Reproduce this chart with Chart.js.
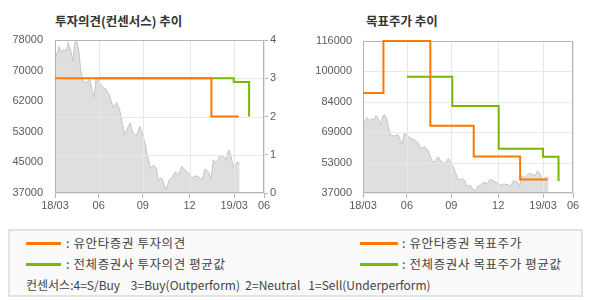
<!DOCTYPE html>
<html><head><meta charset="utf-8">
<script src="https://cdn.jsdelivr.net/npm/chart.js@4/dist/chart.umd.min.js"></script>
<style>
html,body{margin:0;padding:0;background:#fff;}
body{width:590px;height:300px;position:relative;overflow:hidden;font-family:"Noto Sans CJK KR","Liberation Sans",sans-serif;}
.title{position:absolute;font-weight:bold;font-size:12.5px;color:#333;line-height:16px;white-space:pre;}
canvas{position:absolute;top:0;}
#c1{left:0;}
#c2{left:295px;}
.legend{position:absolute;left:8px;top:229px;width:575px;height:68px;border:2px solid #e2e2e2;background:#fafafa;box-sizing:border-box;}
.lt{position:absolute;font-size:12.5px;line-height:14px;color:#444;white-space:pre;}
.ln{position:absolute;height:3px;}
</style>
</head><body>
<div class="title" style="left:55px;top:13px;">투자의견(컨센서스) 추이</div>
<div class="title" style="left:366px;top:13px;">목표주가 추이</div>
<canvas id="c1" width="295" height="215"></canvas>
<canvas id="c2" width="295" height="215"></canvas>
<div id="legend"></div>
<script>
// ---- data ----
const tickDays = [4, 92, 181, 275, 365, 425];
const tickLabels = ['18/03', '06', '09', '12', '19/03', '06'];
const priceDays = [4, 8, 12, 17, 21, 27, 30, 35, 40, 44, 48, 52, 56, 60, 67, 74, 79, 83, 87, 94, 101, 107, 114, 121, 128, 134, 140, 144, 149, 155, 161, 168, 175, 181, 186, 189, 196, 202, 208, 212, 219, 224, 228, 234, 239, 246, 253, 259, 266, 273, 280, 286, 293, 300, 306, 313, 318, 323, 329, 337, 343, 349, 354, 358, 364, 370, 376];
const priceValues = [72600, 74400, 76200, 74700, 75500, 75100, 77300, 75500, 72400, 77300, 77600, 75100, 69700, 67000, 66600, 67500, 64400, 62700, 68100, 66600, 65200, 64800, 63000, 59900, 61200, 59400, 55400, 52700, 54000, 55800, 53100, 52300, 54900, 52300, 50000, 47700, 43600, 44500, 43600, 40500, 41000, 39200, 37800, 40500, 41000, 42700, 41800, 44100, 43200, 42300, 41000, 41600, 41400, 40500, 43400, 42700, 40500, 45900, 45000, 47200, 46800, 45900, 48600, 47200, 43600, 45200, 45000];
const opinionYuantaDays = [4, 319, 374];
const opinionYuanta = [3, 2, 2];
const opinionAvgDays = [92, 364, 395];
const opinionAvg = [3, 2.9, 2];
const targetYuantaDays = [4, 45, 139, 226, 319, 374];
const targetYuanta = [89000, 116000, 72000, 56000, 44000, 44000];
const targetAvgDays = [92, 183, 276, 365, 396];
const targetAvg = [97400, 82200, 60000, 55800, 43300];
const leftPriceTicks = ['37000', '45000', '53000', '62000', '70000', '78000'];
const rightPriceTicks = ['37000', '53000', '69000', '84000', '100000', '116000'];
const opinionTicks = ['0', '1', '2', '3', '4'];
const legendItems = [': 유안타증권 투자의견', ': 전체증권사 투자의견 평균값', ': 유안타증권 목표주가', ': 전체증권사 목표주가 평균값'];
const consensusText = '컨센서스:4=S/Buy    3=Buy(Outperform)  2=Neutral   1=Sell(Underperform)';

// ---- styles ----
const ORANGE = '#ff7800';
const GREEN = '#77b800';
const GRID = '#e8e8e8';
const AXIS = '#b4b4b4';
const TICKFONT = {family: '"Liberation Sans", Arial, sans-serif', size: 11};
const TICKCOLOR = '#5a5a5a';

const pts = (xs, ys) => xs.map((x, i) => ({x: x, y: ys[i]}));

// grid + frame drawn right after the price area, below the step lines
const framePlugin = {
  id: 'frame',
  afterDatasetDraw(chart, args) {
    if (args.meta._dataset.isPrice !== true) return;
    const {ctx, chartArea: a} = chart;
    const l = Math.round(a.left) + 0.5, t = Math.round(a.top) + 0.5;
    const r = Math.round(a.right) - 0.5, b = Math.round(a.bottom) - 0.5;
    ctx.save();
    ctx.lineWidth = 1;
    ctx.strokeStyle = GRID;
    ctx.beginPath();
    const xs = chart.scales.x;
    xs.ticks.forEach(tk => {
      const px = Math.round(xs.getPixelForValue(tk.value)) + 0.5;
      ctx.moveTo(px, t); ctx.lineTo(px, b);
    });
    const ys = chart.scales[chart.options.gridAxis];
    ys.ticks.forEach(tk => {
      const py = Math.round(ys.getPixelForValue(tk.value)) + 0.5;
      ctx.moveTo(l, py); ctx.lineTo(r, py);
    });
    ctx.stroke();
    ctx.strokeStyle = AXIS;
    ctx.strokeRect(l, t, r - l, b - t);
    ctx.restore();
  }
};

function xScale() {
  return {
    type: 'linear', min: tickDays[0], max: tickDays[tickDays.length - 1],
    afterBuildTicks: s => { s.ticks = tickDays.map(v => ({value: v})); },
    afterFit: s => { s.height = 22; },
    grid: {drawOnChartArea: false, drawTicks: true, tickLength: 5, tickColor: AXIS},
    border: {display: false},
    ticks: {font: TICKFONT, color: TICKCOLOR, padding: 1, autoSkip: false, maxRotation: 0,
      callback: (v, i) => tickLabels[i]}
  };
}

function priceScale(labels, width, position, pad) {
  return {
    type: 'linear', position: position, min: +labels[0], max: +labels[labels.length - 1],
    afterBuildTicks: s => {
      const n = labels.length - 1;
      s.ticks = labels.map((_, i) => ({value: s.min + i * (s.max - s.min) / n}));
    },
    afterFit: s => { s.width = width; },
    grid: {display: false},
    border: {display: false},
    ticks: {font: TICKFONT, color: TICKCOLOR, padding: pad, callback: (v, i) => labels[i]}
  };
}

function stepDs(data, color, axis, order) {
  return {data: data, borderColor: color, borderWidth: 2, stepped: 'before', pointRadius: 0,
    fill: false, yAxisID: axis, order: order, borderJoinStyle: 'miter', borderCapStyle: 'butt', clip: 4};
}
function priceDs(axis) {
  return {data: pts(priceDays, priceValues), borderColor: '#c4c4c4', borderWidth: 1,
    backgroundColor: '#dfdfdf', fill: 'start', pointRadius: 0, tension: 0, yAxisID: axis, order: 5, isPrice: true};
}

const common = {
  responsive: false, animation: false, devicePixelRatio: 1,
  plugins: {legend: {display: false}, tooltip: {enabled: false}, title: {display: false}},
  events: []
};

new Chart(document.getElementById('c1'), {
  type: 'line',
  data: {datasets: [
    stepDs(pts(opinionYuantaDays, opinionYuanta), ORANGE, 'y1', 0),
    stepDs(pts(opinionAvgDays, opinionAvg), GREEN, 'y1', 1),
    priceDs('y')
  ]},
  options: Object.assign({}, common, {
    gridAxis: 'y1',
    layout: {padding: {top: 40, left: 0, right: 0, bottom: 0}},
    scales: {
      x: xScale(),
      y: priceScale(leftPriceTicks, 55, 'left', 4),
      y1: {type: 'linear', position: 'right', min: 0, max: 4,
        afterBuildTicks: s => { s.ticks = opinionTicks.map(v => ({value: +v})); },
        afterFit: s => { s.width = 31; },
        grid: {drawOnChartArea: false, drawTicks: true, tickLength: 4, tickColor: AXIS},
        border: {display: false},
        ticks: {font: TICKFONT, color: TICKCOLOR, padding: 2, callback: (v, i) => opinionTicks[i]}}
    }
  }),
  plugins: [framePlugin]
});

new Chart(document.getElementById('c2'), {
  type: 'line',
  data: {datasets: [
    stepDs(pts(targetYuantaDays, targetYuanta), ORANGE, 'y', 0),
    stepDs(pts(targetAvgDays, targetAvg), GREEN, 'y', 1),
    priceDs('y')
  ]},
  options: Object.assign({}, common, {
    gridAxis: 'y',
    layout: {padding: {top: 41, left: 0, right: 17, bottom: 0}},
    scales: {
      x: xScale(),
      y: priceScale(rightPriceTicks, 68, 'left', 3)
    }
  }),
  plugins: [framePlugin]
});

// ---- legend (HTML) ----
(function () {
  const box = document.createElement('div');
  box.className = 'legend';
  document.getElementById('legend').appendChild(box);
  const colors = [ORANGE, GREEN, ORANGE, GREEN];
  const lineX = [26, 26, 360, 360], lineW = [35, 35, 38, 38];
  const textX = [66, 66, 402, 402], rowY = [243, 264, 243, 264];
  legendItems.forEach((t, i) => {
    const ln = document.createElement('div');
    ln.className = 'ln';
    ln.style.cssText = `left:${lineX[i]}px;top:${rowY[i] - 1.5}px;width:${lineW[i]}px;background:${colors[i]};`;
    document.body.appendChild(ln);
    const tx = document.createElement('div');
    tx.className = 'lt';
    tx.style.cssText = `left:${textX[i]}px;top:${rowY[i] - 7}px;letter-spacing:0.6px;`;
    tx.textContent = t;
    document.body.appendChild(tx);
  });
  const c = document.createElement('div');
  c.className = 'lt';
  c.style.cssText = 'left:26px;top:278px;font-size:12px;';
  c.textContent = consensusText;
  document.body.appendChild(c);
})();
</script>
</body></html>
